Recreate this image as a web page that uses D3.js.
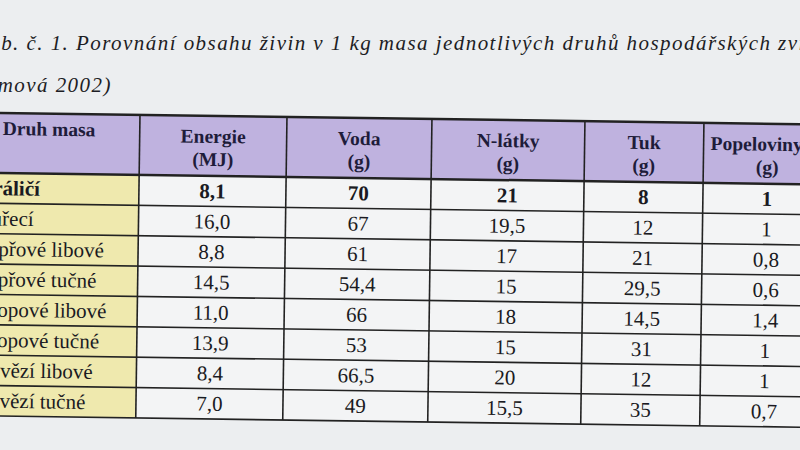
<!DOCTYPE html>
<html><head><meta charset="utf-8">
<script src="https://cdn.jsdelivr.net/npm/d3@7"></script>
<style>body{margin:0;background:#eceef0;overflow:hidden} text{font-family:"Times New Roman","Liberation Serif",Tinos,"DejaVu Serif","Noto Serif",serif}</style>
</head><body>
<svg id="tab" width="800" height="450"></svg>
<script>
const rows = ["Králičí", "Kuřecí", "Vepřové libové", "Vepřové tučné", "Skopové libové", "Skopové tučné", "Hovězí libové", "Hovězí tučné"];
const headers = [["Druh masa"], ["Energie", "(MJ)"], ["Voda", "(g)"], ["N-látky", "(g)"], ["Tuk", "(g)"], ["Popeloviny", "(g)"]];
const energie = ["8,1", "16,0", "8,8", "14,5", "11,0", "13,9", "8,4", "7,0"];
const voda = ["70", "67", "61", "54,4", "66", "53", "66,5", "49"];
const nlatky = ["21", "19,5", "17", "15", "18", "15", "20", "15,5"];
const tuk = ["8", "12", "21", "29,5", "14,5", "31", "12", "35"];
const popel = ["1", "1", "0,8", "0,6", "1,4", "1", "1", "0,7"];

const cols = [rows, energie, voda, nlatky, tuk, popel];
const edges = [-40, 140, 287, 432, 585, 704, 850];

let svg = d3.select("#tab");

svg.append("text").attr("x", -22).attr("y", 50)
    .attr("font-style", "italic").attr("font-size", 21).attr("letter-spacing", 1.45).attr("fill", "#1d1d24")
    .text("Tab. č. 1. Porovnání obsahu živin v 1 kg masa jednotlivých druhů hospodářských zvířat");
svg.append("text").attr("x", -30).attr("y", 92)
    .attr("font-style", "italic").attr("font-size", 21).attr("letter-spacing", 1.45).attr("fill", "#1d1d24")
    .text("(Simová 2002)");

let g = svg.append("g").attr("transform", "rotate(0.8, 0, 113)");
let tTop = 113, headH = 60;
let y = d3.scaleBand().domain(d3.range(rows.length)).range([tTop + headH, tTop + headH + 243]);

g.append("rect").attr("x", edges[0]).attr("y", tTop)
    .attr("width", edges[6] - edges[0]).attr("height", headH).attr("fill", "#bfb2df");

cols.forEach((col, c) => {
    let cx = c == 0 ? -22 : c == 5 ? 768 : (edges[c] + edges[c + 1]) / 2;
    g.selectAll(null).data(col).join("rect")
        .attr("x", edges[c]).attr("y", (d, i) => y(i))
        .attr("width", edges[c + 1] - edges[c]).attr("height", y.bandwidth())
        .attr("fill", c == 0 ? "#efe9ae" : "#f3f4f5");
    g.selectAll(null).data(col).join("text")
        .attr("x", cx)
        .attr("y", (d, i) => y(i) + y.bandwidth() / 2 + 7)
        .attr("text-anchor", c == 0 ? "start" : "middle")
        .attr("font-weight", (d, i) => i == 0 ? "bold" : "normal")
        .attr("font-size", 21)
        .attr("fill", "#1a1a22")
        .text(d => d);
    headers[c].forEach((t, k) => {
        g.append("text")
            .attr("x", c == 0 ? 3 : c == 5 && k == 0 ? 711 : cx)
            .attr("y", c == 0 ? tTop + 22 : tTop + 27 + k * 23)
            .attr("text-anchor", c == 0 || (c == 5 && k == 0) ? "start" : "middle")
            .attr("font-weight", "bold").attr("font-size", 19.5)
            .attr("fill", "#1e1c3a")
            .text(t);
    });
});

let bottom = tTop + headH + 243;
[tTop, tTop + headH, ...d3.range(1, rows.length).map(i => y(i)), bottom].forEach((yy, i) => {
    g.append("line").attr("x1", edges[0]).attr("x2", edges[6]).attr("y1", yy).attr("y2", yy)
        .attr("stroke", "#222").attr("stroke-width", i == 0 || i == 1 ? 2.5 : 1.6);
});
edges.slice(1, 6).forEach(xx => {
    g.append("line").attr("x1", xx).attr("x2", xx).attr("y1", tTop).attr("y2", bottom)
        .attr("stroke", "#222").attr("stroke-width", 1.6);
});
</script>
</body></html>
